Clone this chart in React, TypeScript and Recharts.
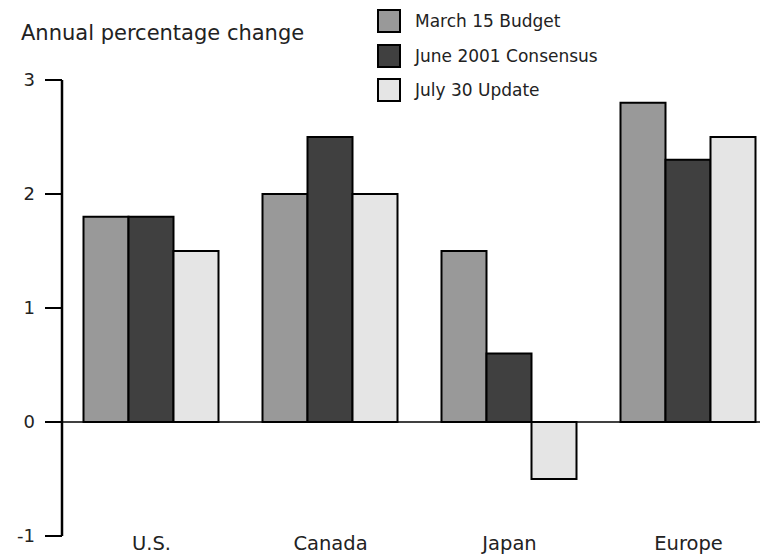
import { BarChart, Bar, XAxis, YAxis, ReferenceLine } from "recharts";

const regions = ["U.S.", "Canada", "Japan", "Europe"];
const marchBudget = [1.8, 2.0, 1.5, 2.8];
const juneConsensus = [1.8, 2.5, 0.6, 2.3];
const julyUpdate = [1.5, 2.0, -0.5, 2.5];
const yTicks = [-1, 0, 1, 2, 3];

const series = [
  { key: "march", name: "March 15 Budget", color: "#999999" },
  { key: "june", name: "June 2001 Consensus", color: "#404040" },
  { key: "july", name: "July 30 Update", color: "#e5e5e5" },
];

const data = regions.map((region, i) => ({
  region,
  march: marchBudget[i],
  june: juneConsensus[i],
  july: julyUpdate[i],
}));

const FONT = "'DejaVu Sans', sans-serif";
const TEXT = "#222222";

function RegionTick({ x, y, payload }: any) {
  return (
    <text x={x} y={y + 14} textAnchor="middle" fontFamily={FONT} fontSize={19.5} fill={TEXT}>
      {payload.value}
    </text>
  );
}

export default function App() {
  return (
    <div style={{ position: "relative", width: 752, height: 546, overflow: "hidden" }}>
      <div
        style={{
          position: "absolute",
          left: 13,
          top: 13,
          fontFamily: FONT,
          fontSize: 21,
          lineHeight: "24px",
          color: TEXT,
          whiteSpace: "nowrap",
        }}
      >
        Annual percentage change
      </div>
      <div style={{ position: "absolute", left: 369, top: 1, fontFamily: FONT, fontSize: 17, color: TEXT }}>
        {series.map((s) => (
          <div key={s.key} style={{ display: "flex", alignItems: "center", height: 24, marginBottom: 10.5 }}>
            <div
              style={{
                width: 20,
                height: 20,
                background: s.color,
                border: "2px solid #000",
                marginRight: 14,
              }}
            />
            <span style={{ lineHeight: "24px", whiteSpace: "nowrap" }}>{s.name}</span>
          </div>
        ))}
      </div>
      <BarChart
        width={790}
        height={546}
        data={data}
        margin={{ top: 72, right: 20, left: 0, bottom: 0 }}
        barCategoryGap={21.5}
        barGap={0}
      >
        <XAxis
          dataKey="region"
          axisLine={false}
          tickLine={false}
          tickSize={0}
          tickMargin={0}
          height={18}
          tick={<RegionTick />}
          interval={0}
        />
        <YAxis
          domain={[-1, 3]}
          ticks={yTicks}
          width={54}
          tickSize={17}
          tickMargin={10}
          axisLine={{ stroke: "#000", strokeWidth: 2.5 }}
          tickLine={{ stroke: "#000", strokeWidth: 2 }}
          tick={{ fontFamily: FONT, fontSize: 18, fill: TEXT }}
          allowDataOverflow
        />
        <ReferenceLine y={0} stroke="#000" strokeWidth={1.5} />
        {series.map((s) => (
          <Bar
            key={s.key}
            dataKey={s.key}
            name={s.name}
            fill={s.color}
            stroke="#000"
            strokeWidth={2}
            isAnimationActive={false}
          />
        ))}
      </BarChart>
    </div>
  );
}
